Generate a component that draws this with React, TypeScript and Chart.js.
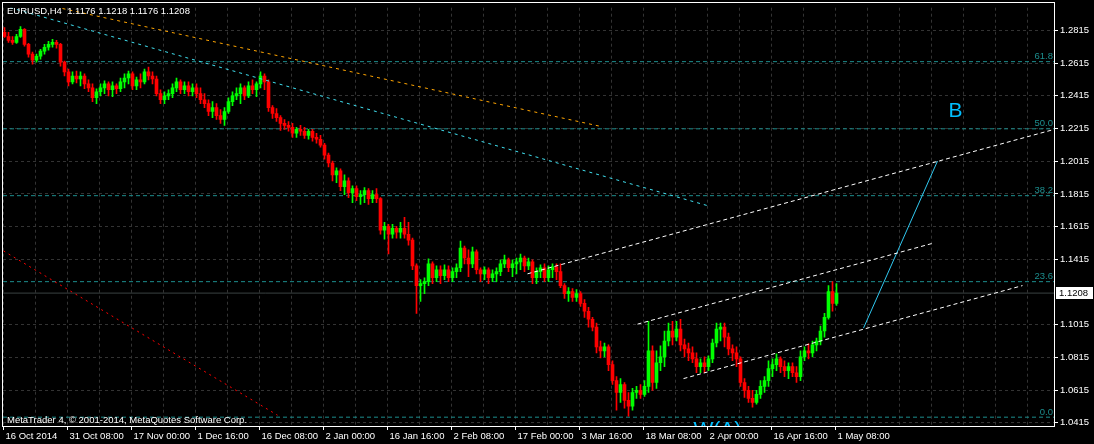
import React, { useEffect, useRef } from "react";
import { Chart, registerables } from "chart.js";

Chart.register(...registerables);

// ---------- data ----------
const timeLabels = [
  "16 Oct 2014", "31 Oct 08:00", "17 Nov 00:00", "1 Dec 16:00", "16 Dec 08:00",
  "2 Jan 00:00", "16 Jan 16:00", "2 Feb 08:00", "17 Feb 00:00", "3 Mar 16:00",
  "18 Mar 08:00", "2 Apr 00:00", "16 Apr 16:00", "1 May 08:00",
];

const priceTicks = [1.2815, 1.2615, 1.2415, 1.2215, 1.2015, 1.1815, 1.1615, 1.1415, 1.1015, 1.0815, 1.0615, 1.0415];

const lastPrice = 1.1208;
const headerText = "EURUSD,H4  1.1176 1.1218 1.1176 1.1208";
const footerText = "MetaTrader 4, \u00A9 2001-2014, MetaQuotes Software Corp.";

const fibLabels = ["0.0", "23.6", "38.2", "50.0", "61.8"];
const fibPrices = [1.0449, 1.1278, 1.1804, 1.2213, 1.2624];

// candles: [open, high, low, close]
const octCandles = [
  [1.2803, 1.2833, 1.2772, 1.2778], [1.2778, 1.2803, 1.2742, 1.2754], [1.2754, 1.2778, 1.2730, 1.2742],
  [1.2742, 1.2791, 1.2736, 1.2778], [1.2778, 1.2839, 1.2772, 1.2821], [1.2821, 1.2827, 1.2718, 1.2730],
  [1.2730, 1.2736, 1.2651, 1.2670], [1.2670, 1.2682, 1.2609, 1.2633], [1.2633, 1.2670, 1.2621, 1.2657],
  [1.2657, 1.2700, 1.2639, 1.2688], [1.2688, 1.2730, 1.2670, 1.2712], [1.2712, 1.2748, 1.2694, 1.2730],
  [1.2730, 1.2760, 1.2712, 1.2742], [1.2742, 1.2754, 1.2706, 1.2730], [1.2730, 1.2736, 1.2597, 1.2621],
  [1.2621, 1.2627, 1.2536, 1.2561], [1.2561, 1.2579, 1.2476, 1.2500],
];
const novCandles = [
  [1.2500, 1.2561, 1.2488, 1.2536], [1.2536, 1.2567, 1.2494, 1.2518], [1.2518, 1.2561, 1.2476, 1.2536],
  [1.2536, 1.2549, 1.2458, 1.2488], [1.2488, 1.2512, 1.2440, 1.2464], [1.2464, 1.2488, 1.2379, 1.2403],
  [1.2403, 1.2458, 1.2367, 1.2440], [1.2440, 1.2488, 1.2415, 1.2464], [1.2464, 1.2506, 1.2428, 1.2488],
  [1.2488, 1.2500, 1.2415, 1.2452], [1.2452, 1.2500, 1.2409, 1.2476], [1.2476, 1.2488, 1.2428, 1.2458],
  [1.2458, 1.2524, 1.2440, 1.2500], [1.2500, 1.2549, 1.2464, 1.2524], [1.2524, 1.2567, 1.2488, 1.2549],
  [1.2549, 1.2561, 1.2452, 1.2476], [1.2476, 1.2530, 1.2452, 1.2512], [1.2512, 1.2549, 1.2464, 1.2500],
  [1.2500, 1.2579, 1.2488, 1.2561], [1.2561, 1.2591, 1.2512, 1.2536], [1.2536, 1.2561, 1.2488, 1.2518],
  [1.2518, 1.2536, 1.2415, 1.2428], [1.2428, 1.2452, 1.2367, 1.2391], [1.2391, 1.2440, 1.2367, 1.2415],
  [1.2415, 1.2452, 1.2391, 1.2428], [1.2428, 1.2488, 1.2403, 1.2464], [1.2464, 1.2524, 1.2440, 1.2500],
  [1.2500, 1.2512, 1.2428, 1.2452], [1.2452, 1.2500, 1.2428, 1.2476], [1.2476, 1.2500, 1.2415, 1.2440],
  [1.2440, 1.2488, 1.2415, 1.2464],
];
const decCandles = [
  [1.2464, 1.2488, 1.2403, 1.2428], [1.2428, 1.2464, 1.2367, 1.2391], [1.2391, 1.2428, 1.2343, 1.2367],
  [1.2367, 1.2391, 1.2294, 1.2319], [1.2319, 1.2379, 1.2282, 1.2343], [1.2343, 1.2367, 1.2270, 1.2294],
  [1.2294, 1.2331, 1.2246, 1.2270], [1.2270, 1.2343, 1.2234, 1.2319], [1.2319, 1.2403, 1.2307, 1.2379],
  [1.2379, 1.2440, 1.2355, 1.2415], [1.2415, 1.2464, 1.2391, 1.2428], [1.2428, 1.2488, 1.2367, 1.2464],
  [1.2464, 1.2476, 1.2391, 1.2415], [1.2415, 1.2500, 1.2403, 1.2476], [1.2476, 1.2512, 1.2428, 1.2452],
  [1.2452, 1.2500, 1.2409, 1.2488], [1.2488, 1.2561, 1.2464, 1.2536], [1.2536, 1.2549, 1.2452, 1.2500],
  [1.2500, 1.2512, 1.2319, 1.2343], [1.2343, 1.2355, 1.2276, 1.2307], [1.2307, 1.2337, 1.2258, 1.2282],
  [1.2282, 1.2294, 1.2204, 1.2246], [1.2246, 1.2270, 1.2210, 1.2234], [1.2234, 1.2258, 1.2198, 1.2222],
  [1.2222, 1.2246, 1.2161, 1.2186], [1.2186, 1.2222, 1.2161, 1.2210], [1.2210, 1.2234, 1.2173, 1.2198],
  [1.2198, 1.2222, 1.2155, 1.2173], [1.2173, 1.2210, 1.2149, 1.2198], [1.2198, 1.2210, 1.2137, 1.2161],
  [1.2161, 1.2186, 1.2125, 1.2149], [1.2149, 1.2173, 1.2101, 1.2113],
];
const janCandles = [
  [1.2113, 1.2125, 1.2028, 1.2052], [1.2052, 1.2065, 1.1980, 1.2004], [1.2004, 1.2016, 1.1895, 1.1931],
  [1.1931, 1.1974, 1.1883, 1.1956], [1.1956, 1.1968, 1.1835, 1.1859], [1.1859, 1.1931, 1.1810, 1.1895],
  [1.1895, 1.1913, 1.1792, 1.1823], [1.1823, 1.1865, 1.1762, 1.1847], [1.1847, 1.1865, 1.1774, 1.1798],
  [1.1798, 1.1835, 1.1750, 1.1810], [1.1810, 1.1853, 1.1762, 1.1835], [1.1835, 1.1847, 1.1750, 1.1786],
  [1.1786, 1.1835, 1.1762, 1.1810], [1.1810, 1.1847, 1.1762, 1.1786], [1.1786, 1.1792, 1.1568, 1.1593],
  [1.1593, 1.1641, 1.1538, 1.1617], [1.1617, 1.1629, 1.1447, 1.1568], [1.1568, 1.1629, 1.1544, 1.1605],
  [1.1605, 1.1617, 1.1544, 1.1581], [1.1581, 1.1641, 1.1544, 1.1605], [1.1605, 1.1671, 1.1544, 1.1568],
  [1.1568, 1.1641, 1.1502, 1.1532], [1.1532, 1.1544, 1.1351, 1.1375], [1.1375, 1.1387, 1.1084, 1.1254],
  [1.1254, 1.1290, 1.1157, 1.1266], [1.1266, 1.1302, 1.1205, 1.1278], [1.1278, 1.1417, 1.1254, 1.1387],
  [1.1387, 1.1399, 1.1266, 1.1302], [1.1302, 1.1375, 1.1278, 1.1351], [1.1351, 1.1375, 1.1266, 1.1314],
  [1.1314, 1.1381, 1.1290, 1.1351], [1.1351, 1.1375, 1.1278, 1.1302],
];
const febCandles = [
  [1.1302, 1.1363, 1.1278, 1.1339], [1.1339, 1.1387, 1.1302, 1.1363], [1.1363, 1.1526, 1.1339, 1.1484],
  [1.1484, 1.1496, 1.1387, 1.1423], [1.1423, 1.1472, 1.1308, 1.1387], [1.1387, 1.1490, 1.1363, 1.1460],
  [1.1460, 1.1472, 1.1326, 1.1351], [1.1351, 1.1363, 1.1278, 1.1326], [1.1326, 1.1369, 1.1290, 1.1351],
  [1.1351, 1.1363, 1.1266, 1.1302], [1.1302, 1.1351, 1.1278, 1.1326], [1.1326, 1.1363, 1.1278, 1.1339],
  [1.1339, 1.1411, 1.1314, 1.1387], [1.1387, 1.1441, 1.1363, 1.1411], [1.1411, 1.1423, 1.1339, 1.1363],
  [1.1363, 1.1411, 1.1308, 1.1387], [1.1387, 1.1423, 1.1326, 1.1399], [1.1399, 1.1447, 1.1351, 1.1423],
  [1.1423, 1.1435, 1.1339, 1.1375], [1.1375, 1.1423, 1.1351, 1.1399], [1.1399, 1.1411, 1.1266, 1.1302],
  [1.1302, 1.1363, 1.1266, 1.1339], [1.1339, 1.1381, 1.1302, 1.1363], [1.1363, 1.1387, 1.1278, 1.1302],
  [1.1302, 1.1375, 1.1278, 1.1351], [1.1351, 1.1387, 1.1302, 1.1369], [1.1369, 1.1387, 1.1290, 1.1339],
  [1.1339, 1.1387, 1.1242, 1.1254], [1.1254, 1.1266, 1.1175, 1.1205], [1.1205, 1.1242, 1.1157, 1.1218],
  [1.1218, 1.1236, 1.1157, 1.1181], [1.1181, 1.1230, 1.1157, 1.1205],
];
const marCandles = [
  [1.1205, 1.1218, 1.1127, 1.1145], [1.1145, 1.1169, 1.1060, 1.1097], [1.1097, 1.1121, 1.1000, 1.1048],
  [1.1048, 1.1060, 1.0976, 1.1000], [1.1000, 1.1024, 1.0842, 1.0879], [1.0879, 1.0915, 1.0812, 1.0855],
  [1.0855, 1.0903, 1.0818, 1.0879], [1.0879, 1.0891, 1.0734, 1.0770], [1.0770, 1.0794, 1.0649, 1.0673],
  [1.0673, 1.0697, 1.0492, 1.0600], [1.0600, 1.0685, 1.0540, 1.0649], [1.0649, 1.0661, 1.0504, 1.0552],
  [1.0552, 1.0600, 1.0455, 1.0516], [1.0516, 1.0625, 1.0492, 1.0600], [1.0600, 1.0637, 1.0564, 1.0613],
  [1.0613, 1.0649, 1.0564, 1.0588], [1.0588, 1.0673, 1.0576, 1.0637], [1.0637, 1.1036, 1.0600, 1.0855],
  [1.0855, 1.0885, 1.0613, 1.0661], [1.0661, 1.0855, 1.0625, 1.0782], [1.0782, 1.0885, 1.0734, 1.0818],
  [1.0818, 1.0976, 1.0758, 1.0915], [1.0915, 1.1024, 1.0885, 1.0976], [1.0976, 1.1036, 1.0891, 1.0939],
  [1.0939, 1.1036, 1.0915, 1.0988], [1.0988, 1.1048, 1.0855, 1.0891], [1.0891, 1.0927, 1.0818, 1.0867],
  [1.0867, 1.0903, 1.0794, 1.0842], [1.0842, 1.0879, 1.0782, 1.0806], [1.0806, 1.0842, 1.0721, 1.0758],
  [1.0758, 1.0806, 1.0721, 1.0782], [1.0782, 1.0818, 1.0721, 1.0758],
];
const aprCandles = [
  [1.0758, 1.0824, 1.0734, 1.0806], [1.0806, 1.0927, 1.0782, 1.0903], [1.0903, 1.1024, 1.0879, 1.0988],
  [1.0988, 1.1024, 1.0915, 1.1000], [1.1000, 1.1024, 1.0879, 1.0939], [1.0939, 1.0963, 1.0830, 1.0867],
  [1.0867, 1.0891, 1.0794, 1.0842], [1.0842, 1.0879, 1.0758, 1.0806], [1.0806, 1.0818, 1.0637, 1.0661],
  [1.0661, 1.0685, 1.0570, 1.0613], [1.0613, 1.0637, 1.0540, 1.0564], [1.0564, 1.0613, 1.0510, 1.0540],
  [1.0540, 1.0613, 1.0528, 1.0588], [1.0588, 1.0673, 1.0564, 1.0637], [1.0637, 1.0697, 1.0600, 1.0673],
  [1.0673, 1.0794, 1.0637, 1.0746], [1.0746, 1.0806, 1.0697, 1.0770], [1.0770, 1.0836, 1.0734, 1.0806],
  [1.0806, 1.0818, 1.0721, 1.0758], [1.0758, 1.0794, 1.0697, 1.0734], [1.0734, 1.0782, 1.0685, 1.0758],
  [1.0758, 1.0782, 1.0697, 1.0721], [1.0721, 1.0758, 1.0661, 1.0697], [1.0697, 1.0855, 1.0673, 1.0818],
  [1.0818, 1.0879, 1.0794, 1.0855], [1.0855, 1.0897, 1.0806, 1.0842], [1.0842, 1.0915, 1.0818, 1.0891],
  [1.0891, 1.0933, 1.0855, 1.0915], [1.0915, 1.1006, 1.0891, 1.0976], [1.0976, 1.1084, 1.0939, 1.1060],
  [1.1060, 1.1254, 1.1048, 1.1218], [1.1218, 1.1278, 1.1097, 1.1145], [1.1145, 1.1266, 1.1133, 1.1208],
];

// trend lines: [barIndex, price] endpoints
const orangeTrend = [[62, 1.2949], [600, 1.2228]];
const cyanTrend = [[3, 1.2966], [710, 1.1738]];
const redTrend = [[3, 1.1466], [277, 1.0461]];
const channelUpper = [[527, 1.1326], [1054, 1.2210]];
const channelMiddle = [[637, 1.1018], [933, 1.1514]];
const channelLower = [[683, 1.0685], [1022, 1.1254]];
const waveLine = [[863, 1.0994], [937, 1.2016]];
const waveLabels = [
  { text: "B", x: 948, price: 1.2288 },
  { text: "W(A)", x: 693, price: 1.0334 },
];

// ---------- styles ----------
const X_MIN = 2.5;
const X_MAX = 1053.5;
const Y_MIN = 1.0395;
const Y_MAX = 1.2954;
const BAR_STEP = 4;
const GRID_STEP = 32;
const UP = "#00FF00";
const DOWN = "#FF0000";
const FIB = "#1C8E8E";
const FONT = "'Liberation Sans', Arial, sans-serif";

function lineDataset(pts: number[][], color: string, dash: number[], order = 0) {
  return {
    type: "line" as const,
    data: pts.map(([x, y]) => ({ x, y })),
    borderColor: color,
    borderWidth: 1,
    borderDash: dash,
    pointRadius: 0,
    fill: false,
    tension: 0,
    order,
  };
}

const overlayPlugin = {
  id: "mt4Overlay",
  afterDatasetsDraw(chart: any) {
    const { ctx, chartArea: a, scales } = chart;
    const xs = scales.x;
    const ys = scales.y;
    ctx.save();
    ctx.beginPath();
    ctx.rect(a.left, a.top, a.right - a.left, a.bottom - a.top);
    ctx.clip();
    ctx.font = `9.5px ${FONT}`;
    ctx.fillStyle = FIB;
    ctx.textAlign = "right";
    ctx.textBaseline = "alphabetic";
    fibPrices.forEach((p, i) => {
      ctx.fillText(fibLabels[i], a.right - 1, ys.getPixelForValue(p) - 2.5);
    });
    ctx.font = `21px ${FONT}`;
    ctx.fillStyle = "#00BFFF";
    ctx.textAlign = "left";
    waveLabels.forEach((w) => {
      ctx.fillText(w.text, xs.getPixelForValue(w.x), ys.getPixelForValue(w.price));
    });
    ctx.font = `9.5px ${FONT}`;
    ctx.fillStyle = "#FFFFFF";
    ctx.fillText(headerText, 7, 14);
    ctx.fillText(footerText, 7, 423);
    ctx.restore();
  },
  afterDraw(chart: any) {
    const { ctx, scales } = chart;
    ctx.save();
    ctx.strokeStyle = "#FFFFFF";
    ctx.lineWidth = 1;
    ctx.strokeRect(2.5, 2.5, 1052, 424);
    const y = Math.round(scales.y.getPixelForValue(lastPrice));
    ctx.fillStyle = "#FFFFFF";
    ctx.fillRect(1056, y - 6, 37, 12);
    ctx.fillStyle = "#000000";
    ctx.font = `9.5px ${FONT}`;
    ctx.textAlign = "left";
    ctx.textBaseline = "middle";
    ctx.fillText(lastPrice.toFixed(4), 1059, y + 0.5);
    ctx.restore();
  },
};

export default function App() {
  const ref = useRef<HTMLCanvasElement>(null);

  useEffect(() => {
    document.body.style.margin = "0";
    document.body.style.background = "#000";
    const candles = [
      ...octCandles, ...novCandles, ...decCandles, ...janCandles,
      ...febCandles, ...marCandles, ...aprCandles,
    ];
    const xPos = candles.map((_, i) => BAR_STEP + BAR_STEP * i);
    const colors = candles.map((c) => (c[3] >= c[0] ? UP : DOWN));
    const wickData = candles.map((c, i) => ({ x: xPos[i], y: [c[2], c[1]] }));
    const bodyData = candles.map((c, i) => ({ x: xPos[i], y: [c[0], c[3]] }));

    const xTicks: number[] = [];
    for (let v = 3; v <= X_MAX; v += GRID_STEP) xTicks.push(v);

    const chart = new Chart(ref.current as HTMLCanvasElement, {
      type: "bar",
      data: {
        datasets: [
          lineDataset(fibPrices.slice(0, 1).map(() => [X_MIN, fibPrices[0]]).concat([[X_MAX, fibPrices[0]]]), FIB, [4, 3], 10),
          lineDataset([[X_MIN, fibPrices[1]], [X_MAX, fibPrices[1]]], FIB, [4, 3], 10),
          lineDataset([[X_MIN, fibPrices[2]], [X_MAX, fibPrices[2]]], FIB, [4, 3], 10),
          lineDataset([[X_MIN, fibPrices[3]], [X_MAX, fibPrices[3]]], FIB, [4, 3], 10),
          lineDataset([[X_MIN, fibPrices[4]], [X_MAX, fibPrices[4]]], FIB, [4, 3], 10),
          lineDataset([[X_MIN, lastPrice], [X_MAX, lastPrice]], "#3A4242", [], 10),
          {
            type: "bar" as const,
            data: wickData as any,
            backgroundColor: colors,
            barThickness: 1,
            grouped: false,
            borderWidth: 0,
            order: 5,
          },
          {
            type: "bar" as const,
            data: bodyData as any,
            backgroundColor: colors,
            barThickness: 3,
            minBarLength: 1,
            grouped: false,
            borderWidth: 0,
            order: 4,
          },
          lineDataset(orangeTrend, "#FFA500", [3, 4]),
          lineDataset(cyanTrend, "#40E0F0", [3, 4]),
          lineDataset(redTrend, "#FF0000", [2, 4]),
          lineDataset(channelUpper, "#FFFFFF", [4, 3]),
          lineDataset(channelMiddle, "#FFFFFF", [4, 3]),
          lineDataset(channelLower, "#FFFFFF", [4, 3]),
          lineDataset(waveLine, "#30C8F0", []),
        ] as any,
      },
      options: {
        animation: false,
        responsive: false,
        maintainAspectRatio: false,
        devicePixelRatio: 1,
        events: [],
        layout: { padding: { left: 3, top: 3, right: 0, bottom: 0 } },
        plugins: { legend: { display: false }, tooltip: { enabled: false } },
        scales: {
          x: {
            type: "linear",
            min: X_MIN,
            max: X_MAX,
            offset: false,
            afterBuildTicks: (s: any) => {
              s.ticks = xTicks.map((v) => ({ value: v }));
            },
            afterFit: (s: any) => {
              s.height = 18;
            },
            grid: {
              offset: false,
              color: "#333333",
              lineWidth: 1,
              drawTicks: true,
              tickLength: 4,
              tickColor: (c: any) =>
                c.index % 2 === 0 && c.index / 2 < timeLabels.length ? "#FFFFFF" : "rgba(0,0,0,0)",
            },
            border: { display: false, dash: [3, 3] },
            ticks: {
              autoSkip: false,
              maxRotation: 0,
              minRotation: 0,
              align: "start",
              labelOffset: 2,
              padding: 1,
              color: "#FFFFFF",
              font: { family: FONT, size: 9.5 },
              callback: (_v: any, i: number) => (i % 2 === 0 && timeLabels[i / 2] ? timeLabels[i / 2] : ""),
            },
          },
          y: {
            type: "linear",
            position: "right",
            min: Y_MIN,
            max: Y_MAX,
            afterBuildTicks: (s: any) => {
              s.ticks = priceTicks.map((v) => ({ value: v }));
            },
            afterFit: (s: any) => {
              s.width = 40;
            },
            grid: {
              color: "#333333",
              lineWidth: 1,
              drawTicks: true,
              tickLength: 4,
              tickColor: "#FFFFFF",
            },
            border: { display: false, dash: [3, 3] },
            ticks: {
              autoSkip: false,
              padding: 2,
              color: "#FFFFFF",
              font: { family: FONT, size: 9.5 },
              callback: (v: any) => Number(v).toFixed(4),
            },
          },
        },
      } as any,
      plugins: [overlayPlugin],
    });

    return () => chart.destroy();
  }, []);

  return (
    <div style={{ width: 1094, height: 444, background: "#000", overflow: "hidden" }}>
      <canvas ref={ref} width={1094} height={444} style={{ display: "block" }} />
    </div>
  );
}
